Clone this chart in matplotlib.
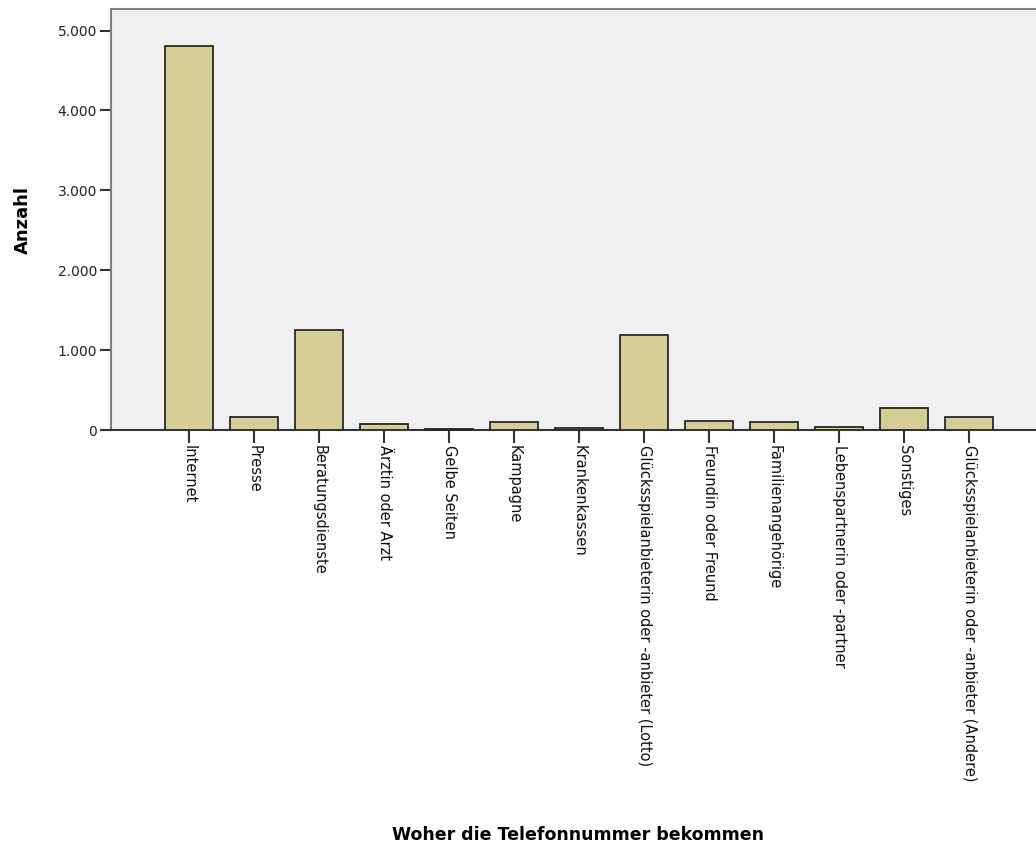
import matplotlib
matplotlib.use("Agg")
import matplotlib.pyplot as plt
from matplotlib.ticker import FuncFormatter

categories = [
    "Internet", "Presse", "Beratungsdienste", "Ärztin oder Arzt", "Gelbe Seiten",
    "Kampagne", "Krankenkassen", "Glücksspielanbieterin oder -anbieter (Lotto)",
    "Freundin oder Freund", "Familienangehörige", "Lebenspartnerin oder -partner",
    "Sonstiges", "Glücksspielanbieterin oder -anbieter (Andere)",
]
values = [4810, 160, 1250, 75, 10, 104, 25, 1190, 116, 104, 37, 270, 167]
yticks = [0, 1000, 2000, 3000, 4000, 5000]

plt.rcParams['font.family'] = ['DejaVu Sans']
fig = plt.figure(figsize=(10.36, 8.5), dpi=100)
ax = fig.add_axes([111/1036, 1-430/850, 1-111/1036, (430-9)/850])
ax.set_facecolor('#F0F0F0')
x = list(range(len(categories)))
ax.bar(x, values, width=0.74, color='#D3CE97', edgecolor='#1a1a1a', linewidth=1.2, zorder=3)
ax.set_xlim(-1.2, 13.03)
ax.set_ylim(0, 5270)
ax.set_yticks(yticks)
ax.yaxis.set_major_formatter(FuncFormatter(lambda v, p: f"{int(v):,}".replace(",", ".")))
ax.set_xticks(x)
ax.set_xticklabels(categories, rotation=270, fontsize=10.5, va='top', ha='center')
ax.tick_params(axis='y', labelsize=10, length=8, width=1.5, color='#333333', pad=2, labelcolor='#222222')
ax.tick_params(axis='x', length=9, width=1.5, color='#333333', pad=2, labelcolor='#111111')
for s in ['top', 'left']:
    ax.spines[s].set_color('#808080')
    ax.spines[s].set_linewidth(1.5)
ax.spines['right'].set_visible(False)
ax.spines['bottom'].set_color('#333333')
ax.spines['bottom'].set_linewidth(1.5)
ax.set_ylabel("Anzahl", fontsize=13, fontweight='bold')
ax.yaxis.set_label_coords(-(111-32)/925, 0.5)
fig.text(578/1036, 1-835/850, "Woher die Telefonnummer bekommen",
         fontsize=12.5, fontweight='bold', ha='center', va='center')
fig.savefig("out.png", dpi=100, facecolor='white')
